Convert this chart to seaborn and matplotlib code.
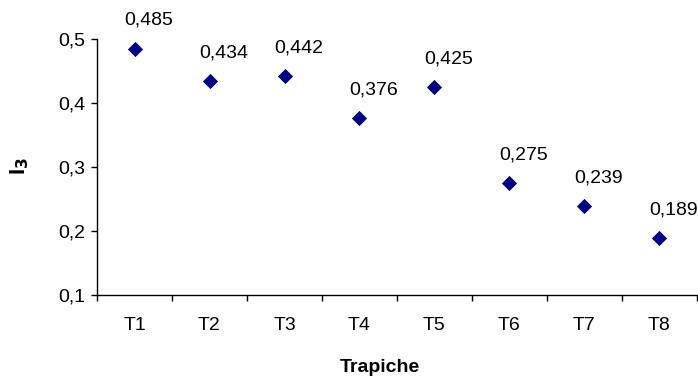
import matplotlib
matplotlib.use("Agg")
import matplotlib.pyplot as plt
import seaborn as sns
import pandas as pd
from matplotlib.ticker import FixedLocator, FuncFormatter

categories = ["T1", "T2", "T3", "T4", "T5", "T6", "T7", "T8"]
values = [0.485, 0.434, 0.442, 0.376, 0.425, 0.275, 0.239, 0.189]
y_ticks = [0.1, 0.2, 0.3, 0.4, 0.5]

sns.set_theme(style="white")
plt.rcParams['font.family'] = ['Liberation Sans', 'DejaVu Sans']
plt.rcParams['text.color'] = 'black'
plt.rcParams['axes.labelcolor'] = 'black'
plt.rcParams['xtick.color'] = 'black'
plt.rcParams['ytick.color'] = 'black'

FS = 14

df = pd.DataFrame({"cat": categories, "val": values})
df["pos"] = range(len(categories))

fig = plt.figure(figsize=(6.98, 3.81), dpi=100)
ax = fig.add_axes([97/698, 86/381, 600/698, 256/381])

sns.scatterplot(data=df, x="pos", y="val", ax=ax, marker="D", s=60,
                color="#000080", edgecolor="#000080", linewidth=0, zorder=3)

for p, v in zip(df["pos"], df["val"]):
    ax.annotate(f"{v:.3f}".replace(".", ","), (p, v), xytext=(10, 20.5),
                textcoords="offset points", ha="center", va="center",
                fontsize=FS, color="black")

ax.set_xlim(-0.5, len(categories) - 0.5)
ax.set_ylim(0.1, 0.5)
ax.yaxis.set_major_locator(FixedLocator(y_ticks))
ax.yaxis.set_major_formatter(FuncFormatter(lambda v, _: f"{v:.1f}".replace(".", ",")))

ax.xaxis.set_major_locator(FixedLocator([i - 0.5 for i in range(len(categories) + 1)]))
ax.xaxis.set_major_formatter(FuncFormatter(lambda v, _: ""))
ax.xaxis.set_minor_locator(FixedLocator(list(range(len(categories)))))
ax.set_xticklabels(categories, minor=True)
ax.tick_params(axis="x", which="major", direction="out", length=4.5, width=1, color="black", bottom=True)
ax.tick_params(axis="x", which="minor", length=0, labelsize=FS, pad=16, bottom=True)
ax.tick_params(axis="y", which="major", direction="out", length=4.5, width=1, color="black",
               labelsize=FS, left=True, pad=4)

for s in ["top", "right"]:
    ax.spines[s].set_visible(False)
for s in ["left", "bottom"]:
    ax.spines[s].set_color("black")
    ax.spines[s].set_linewidth(1)

ax.set_xlabel("Trapiche", fontsize=FS, fontweight="bold")
ax.set_ylabel("I$_\\mathbf{3}$", fontsize=16, fontweight="bold")
ax.xaxis.set_label_coords((380 - 97) / 600, -(368 - 295) / 256)
ax.xaxis.label.set_va("center")
ax.yaxis.set_label_coords(-(97 - 20) / 600, (295 - 166) / 256)
ax.yaxis.label.set_va("center")

fig.savefig("out.png", dpi=100)
